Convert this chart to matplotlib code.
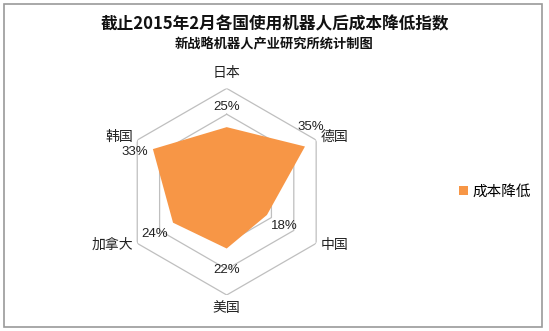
import numpy as np
import matplotlib.pyplot as plt
from matplotlib.patches import Rectangle, Patch

plt.rcParams['font.family'] = ['Noto Sans CJK SC', 'DejaVu Sans']

# data
countries = ['日本', '德国', '中国', '美国', '加拿大', '韩国']
values = [25, 35, 18, 22, 24, 33]
series_name = '成本降低'
title = '截止2015年2月各国使用机器人后成本降低指数'
subtitle = '新战略机器人产业研究所统计制图'
grid_levels = [10, 20, 30, 40]

orange = '#F79646'
grid_col = '#BFBFBF'

W, H = 549, 331
fig = plt.figure(figsize=(W / 100, H / 100), dpi=100)

# outer frame
fig.add_artist(Rectangle((4 / W, 4 / H), 538 / W, 323 / H, transform=fig.transFigure,
                         fill=False, edgecolor='#9a9a9a', lw=1.2))

# polar axes: centre (226.7, 191.7) px, radius 103 px
cx, cy, R = 226.7, 191.7, 103.3
ax = fig.add_axes([(cx - R) / W, 1 - (cy + R) / H, 2 * R / W, 2 * R / H], polar=True)
ax.set_theta_offset(np.pi / 2)
ax.set_theta_direction(-1)
ax.set_ylim(0, 40)
ax.grid(False)
ax.set_xticks([])
ax.set_yticks([])
ax.spines['polar'].set_visible(False)
ax.patch.set_alpha(0)

n = len(countries)
theta = np.arange(n) * 2 * np.pi / n
th_closed = np.append(theta, theta[0])

# hexagonal gridlines
for g in grid_levels:
    ax.plot(th_closed, [g] * (n + 1), color=grid_col, lw=0.9, zorder=1)

# filled series
vals_closed = np.append(values, values[0])
ax.fill(th_closed, vals_closed, color=orange, zorder=2, lw=0)

# category labels
cat_off = [((0, 11), 'center'), ((3, 2), 'left'), ((3, -1), 'left'),
           ((0, -9.5), 'center'), ((-3, -1), 'right'), ((-3, 2), 'right')]
for t, name, (off, ha) in zip(theta, countries, cat_off):
    ax.annotate(name, xy=(t, 40), xytext=off, textcoords='offset points',
                ha=ha, va='center', fontsize=10, color='#222222')

# data labels
lab_off = [(0, 14.4), (4.3, 13.7), (12.2, -7.9), (0, -15.8), (-13, -7.9), (-13, -2.2)]
for t, v, off in zip(theta, values, lab_off):
    ax.annotate(f'{v}%', xy=(t, v), xytext=off, textcoords='offset points',
                ha='center', va='center', fontsize=9.5, color='#222222',
                family=['Liberation Sans', 'DejaVu Sans'])

# titles
fig.text(0.5, 1 - 24 / H, title, ha='center', va='center', fontsize=12,
         fontweight='bold', color='#111111')
fig.text(0.5, 1 - 44 / H, subtitle, ha='center', va='center', fontsize=9.5,
         fontweight='bold', color='#111111')

# legend
fig.legend(handles=[Patch(facecolor=orange, label=series_name)],
           loc='center left', bbox_to_anchor=(452 / W, 1 - 192 / H),
           frameon=False, fontsize=10.5, handlelength=0.6, handleheight=0.6,
           handletextpad=0.3, borderpad=0)

fig.savefig('out.png', dpi=100)
